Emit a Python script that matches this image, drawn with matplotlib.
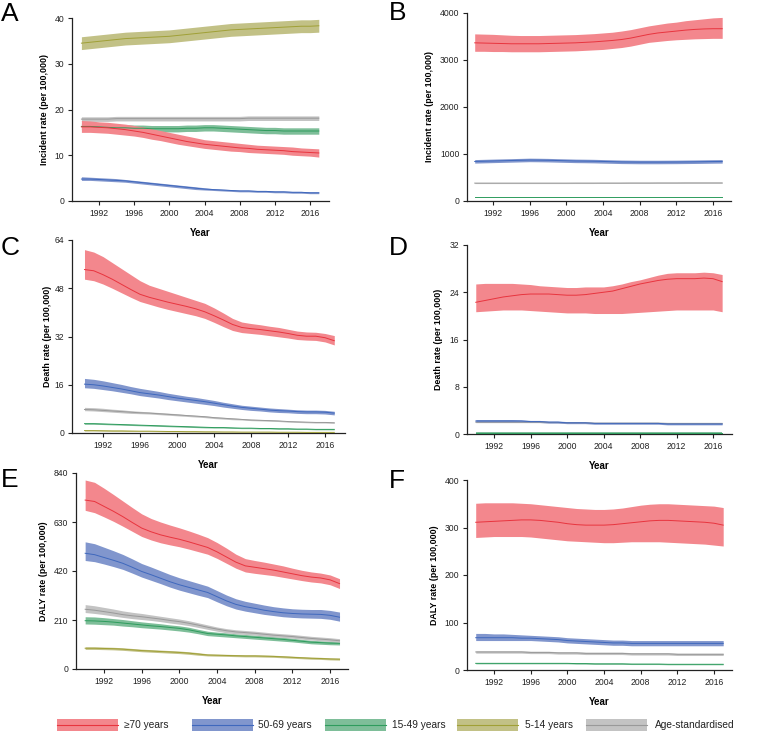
import matplotlib
matplotlib.use("Agg")
import matplotlib.pyplot as plt
from matplotlib.patches import Rectangle
import numpy as np

plt.rcParams['font.family'] = ['Liberation Sans', 'DejaVu Sans']

years = list(range(1990, 2018))
categories = ["\u226570 years", "50-69 years", "15-49 years", "5-14 years", "Age-standardised"]
xticks = [1992, 1996, 2000, 2004, 2008, 2012, 2016]

# ---------------- Panel A: incidence ----------------
A_70 = [16.2,16.2,16.1,16.0,15.8,15.6,15.3,15.0,14.6,14.2,13.8,13.4,13.0,12.7,12.4,12.2,12.0,11.8,11.6,11.5,11.3,11.2,11.1,11.0,10.8,10.7,10.6,10.5]
A_70_lo = [15.0,15.0,14.9,14.8,14.6,14.4,14.2,13.9,13.5,13.2,12.8,12.4,12.1,11.8,11.5,11.3,11.1,10.9,10.8,10.6,10.5,10.4,10.3,10.2,10.0,9.9,9.8,9.6]
A_70_hi = [17.6,17.5,17.3,17.2,17.0,16.8,16.5,16.2,15.8,15.4,15.0,14.6,14.2,13.8,13.4,13.2,13.0,12.8,12.6,12.4,12.2,12.1,12.0,11.9,11.8,11.6,11.5,11.4]
A_5069 = [4.8,4.8,4.7,4.6,4.5,4.4,4.2,4.0,3.8,3.6,3.4,3.2,3.0,2.8,2.6,2.5,2.4,2.3,2.2,2.2,2.1,2.1,2.0,2.0,1.9,1.9,1.8,1.8]
A_5069_lo = [4.5,4.5,4.4,4.3,4.2,4.1,3.9,3.7,3.5,3.3,3.1,2.9,2.7,2.5,2.4,2.3,2.2,2.1,2.0,2.0,1.9,1.9,1.8,1.8,1.7,1.7,1.6,1.6]
A_5069_hi = [5.3,5.2,5.1,5.0,4.9,4.7,4.5,4.3,4.1,3.9,3.7,3.5,3.3,3.1,2.9,2.7,2.6,2.5,2.4,2.4,2.3,2.3,2.2,2.2,2.1,2.1,2.0,2.0]
A_1549 = [16.3,16.3,16.2,16.1,16.0,16.0,15.9,15.9,15.8,15.8,15.8,15.8,15.9,15.9,16.0,16.0,15.9,15.8,15.7,15.6,15.5,15.4,15.4,15.3,15.3,15.3,15.3,15.3]
A_1549_lo = [15.6,15.6,15.5,15.4,15.3,15.3,15.2,15.2,15.1,15.1,15.1,15.1,15.2,15.2,15.3,15.3,15.2,15.1,15.0,14.9,14.8,14.7,14.7,14.6,14.6,14.6,14.6,14.6]
A_1549_hi = [17.0,17.0,16.9,16.8,16.7,16.7,16.6,16.6,16.5,16.5,16.5,16.5,16.6,16.6,16.7,16.7,16.6,16.5,16.4,16.3,16.2,16.1,16.1,16.0,16.0,16.0,16.0,16.0]
A_514 = [34.5,34.7,34.9,35.1,35.3,35.5,35.6,35.7,35.8,35.9,36.0,36.2,36.4,36.6,36.8,37.0,37.2,37.4,37.5,37.6,37.7,37.8,37.9,38.0,38.1,38.2,38.2,38.3]
A_514_lo = [33.1,33.3,33.5,33.7,33.9,34.1,34.2,34.3,34.4,34.5,34.6,34.8,35.0,35.2,35.4,35.6,35.8,36.0,36.1,36.2,36.3,36.4,36.5,36.6,36.7,36.8,36.8,36.9]
A_514_hi = [35.9,36.1,36.3,36.5,36.7,36.9,37.0,37.1,37.2,37.3,37.4,37.6,37.8,38.0,38.2,38.4,38.6,38.8,38.9,39.0,39.1,39.2,39.3,39.4,39.5,39.6,39.6,39.7]
A_std = [17.9,17.9,17.9,17.9,18.0,18.0,18.0,18.0,18.0,18.0,18.0,18.0,18.0,18.0,18.0,18.0,18.0,18.0,18.0,18.1,18.1,18.1,18.1,18.1,18.1,18.1,18.1,18.1]
A_std_lo = [17.4,17.4,17.4,17.4,17.5,17.5,17.5,17.5,17.5,17.5,17.5,17.5,17.5,17.5,17.5,17.5,17.5,17.5,17.5,17.6,17.6,17.6,17.6,17.6,17.6,17.6,17.6,17.6]
A_std_hi = [18.4,18.4,18.4,18.4,18.5,18.5,18.5,18.5,18.5,18.5,18.5,18.5,18.5,18.5,18.5,18.5,18.5,18.5,18.5,18.6,18.6,18.6,18.6,18.6,18.6,18.6,18.6,18.6]

# ---------------- Panel B: incidence ----------------
B_70 = [3360,3355,3350,3345,3340,3340,3340,3340,3345,3350,3355,3360,3370,3380,3395,3410,3430,3460,3500,3540,3570,3590,3610,3630,3645,3655,3660,3660]
B_70_lo = [3180,3180,3175,3175,3170,3170,3170,3170,3175,3180,3185,3190,3200,3210,3220,3240,3260,3290,3330,3370,3390,3410,3425,3435,3445,3450,3455,3455]
B_70_hi = [3550,3545,3540,3530,3520,3515,3515,3515,3520,3525,3530,3535,3545,3555,3570,3585,3610,3640,3680,3720,3750,3780,3800,3830,3850,3870,3890,3900]
B_5069 = [840,845,850,855,860,865,870,868,865,860,855,850,848,845,840,835,830,828,826,826,826,827,828,830,832,835,838,840]
B_5069_lo = [805,810,815,820,825,830,835,833,830,825,820,815,813,810,805,800,795,793,791,791,791,792,793,795,797,800,803,805]
B_5069_hi = [880,885,890,895,900,905,910,908,905,900,895,890,888,885,880,875,870,868,866,866,866,867,868,870,872,875,878,880]
B_1549 = [80,80,80,80,80,80,80,80,80,80,80,80,80,80,80,80,80,80,80,80,80,80,80,80,80,80,80,80]
B_1549_lo = [75,75,75,75,75,75,75,75,75,75,75,75,75,75,75,75,75,75,75,75,75,75,75,75,75,75,75,75]
B_1549_hi = [86,86,86,86,86,86,86,86,86,86,86,86,86,86,86,86,86,86,86,86,86,86,86,86,86,86,86,86]
B_std = [380,380,380,380,380,380,380,380,380,380,380,381,381,381,382,382,382,383,383,383,384,384,384,385,385,385,385,385]
B_std_lo = [370,370,370,370,370,370,370,370,370,370,370,371,371,371,372,372,372,373,373,373,374,374,374,375,375,375,375,375]
B_std_hi = [391,391,391,391,391,391,391,391,391,391,391,392,392,392,393,393,393,394,394,394,395,395,395,396,396,396,396,396]

# ---------------- Panel C: deaths ----------------
C_70 = [54.2,53.8,52.5,51.0,49.3,47.6,46.0,45.0,44.2,43.4,42.7,42.0,41.2,40.2,38.9,37.5,36.0,35.0,34.6,34.3,33.9,33.5,33.0,32.4,32.1,32.1,31.6,30.6]
C_70_lo = [51.0,50.5,49.4,48.0,46.5,45.0,43.6,42.7,41.8,41.0,40.3,39.6,38.9,38.0,36.7,35.3,34.0,33.3,33.0,32.7,32.3,31.9,31.5,31.0,30.8,30.7,30.2,29.2]
C_70_hi = [60.8,60.0,58.5,56.5,54.5,52.5,50.5,49.0,48.0,47.0,46.0,45.0,44.0,43.0,41.5,39.8,38.0,36.8,36.3,35.9,35.4,35.0,34.4,33.8,33.5,33.4,33.0,32.3]
C_5069 = [16.2,16.0,15.6,15.1,14.6,14.0,13.4,13.0,12.6,12.1,11.6,11.2,10.8,10.4,9.9,9.4,8.9,8.5,8.2,7.9,7.6,7.4,7.3,7.1,7.0,7.0,6.9,6.6]
C_5069_lo = [15.0,14.8,14.4,14.0,13.5,13.0,12.4,12.0,11.6,11.1,10.7,10.3,9.9,9.5,9.1,8.6,8.2,7.8,7.5,7.3,7.0,6.8,6.7,6.5,6.4,6.4,6.3,6.0]
C_5069_hi = [18.1,17.8,17.3,16.7,16.1,15.4,14.8,14.3,13.8,13.2,12.7,12.2,11.8,11.3,10.8,10.2,9.7,9.2,8.9,8.6,8.3,8.1,7.9,7.7,7.6,7.6,7.5,7.2]
C_1549 = [3.1,3.1,3.0,2.9,2.8,2.7,2.6,2.5,2.4,2.3,2.2,2.1,2.0,1.9,1.8,1.8,1.7,1.6,1.6,1.5,1.5,1.4,1.4,1.3,1.3,1.2,1.2,1.2]
C_1549_lo = [2.9,2.9,2.8,2.7,2.6,2.5,2.4,2.3,2.2,2.1,2.0,1.9,1.8,1.7,1.65,1.65,1.55,1.45,1.45,1.35,1.35,1.25,1.25,1.15,1.15,1.05,1.05,1.05]
C_1549_hi = [3.3,3.3,3.2,3.1,3.0,2.9,2.8,2.7,2.6,2.5,2.4,2.3,2.2,2.1,1.95,1.95,1.85,1.75,1.75,1.65,1.65,1.55,1.55,1.45,1.45,1.35,1.35,1.35]
C_514 = [0.8,0.8,0.75,0.7,0.7,0.65,0.6,0.6,0.55,0.5,0.5,0.45,0.45,0.4,0.4,0.35,0.35,0.3,0.3,0.3,0.3,0.25,0.25,0.25,0.2,0.2,0.2,0.2]
C_514_lo = [0.65,0.65,0.6,0.55,0.55,0.5,0.5,0.5,0.45,0.4,0.4,0.35,0.35,0.3,0.3,0.27,0.27,0.23,0.23,0.23,0.23,0.19,0.19,0.19,0.15,0.15,0.15,0.15]
C_514_hi = [0.95,0.95,0.9,0.85,0.85,0.8,0.72,0.72,0.66,0.6,0.6,0.55,0.55,0.5,0.5,0.44,0.44,0.38,0.38,0.38,0.38,0.32,0.32,0.32,0.26,0.26,0.26,0.26]
C_std = [7.8,7.7,7.5,7.3,7.1,6.9,6.7,6.6,6.4,6.2,6.0,5.8,5.6,5.4,5.1,4.9,4.7,4.5,4.3,4.2,4.1,4.0,3.8,3.7,3.6,3.5,3.5,3.4]
C_std_lo = [7.4,7.3,7.1,6.9,6.7,6.5,6.4,6.3,6.1,5.9,5.7,5.5,5.3,5.1,4.8,4.6,4.4,4.3,4.1,4.0,3.9,3.8,3.6,3.5,3.4,3.3,3.3,3.2]
C_std_hi = [8.5,8.4,8.2,7.9,7.7,7.4,7.2,7.0,6.8,6.6,6.4,6.1,5.9,5.7,5.4,5.2,5.0,4.8,4.6,4.5,4.4,4.2,4.0,3.9,3.8,3.7,3.7,3.6]

# ---------------- Panel D: deaths ----------------
D_70 = [22.3,22.6,22.9,23.2,23.4,23.6,23.7,23.7,23.7,23.6,23.5,23.5,23.6,23.8,24.0,24.2,24.6,25.0,25.4,25.7,26.0,26.2,26.3,26.3,26.3,26.4,26.3,25.8]
D_70_lo = [20.7,20.8,20.9,21.0,21.0,21.0,20.9,20.8,20.7,20.6,20.5,20.5,20.5,20.4,20.4,20.4,20.4,20.5,20.6,20.7,20.8,20.9,21.0,21.0,21.0,21.0,21.0,20.7]
D_70_hi = [25.4,25.5,25.5,25.5,25.5,25.4,25.3,25.1,25.0,24.9,24.8,24.8,24.9,24.9,24.9,25.1,25.4,25.8,26.1,26.5,26.9,27.2,27.3,27.3,27.3,27.4,27.3,27.0]
D_5069 = [2.2,2.2,2.2,2.2,2.2,2.2,2.1,2.1,2.0,2.0,1.9,1.9,1.9,1.8,1.8,1.8,1.8,1.8,1.8,1.8,1.8,1.7,1.7,1.7,1.7,1.7,1.7,1.7]
D_5069_lo = [2.0,2.0,2.0,2.0,2.0,2.0,1.95,1.95,1.85,1.85,1.75,1.75,1.75,1.65,1.65,1.65,1.65,1.65,1.65,1.65,1.65,1.55,1.55,1.55,1.55,1.55,1.55,1.55]
D_5069_hi = [2.45,2.45,2.45,2.45,2.45,2.4,2.3,2.3,2.2,2.2,2.1,2.1,2.05,1.95,1.95,1.95,1.95,1.95,1.95,1.95,1.95,1.85,1.85,1.85,1.85,1.85,1.85,1.85]
D_1549 = [0.2,0.2,0.2,0.2,0.2,0.2,0.2,0.2,0.2,0.2,0.2,0.2,0.2,0.2,0.2,0.2,0.2,0.2,0.2,0.2,0.2,0.2,0.2,0.2,0.2,0.2,0.2,0.2]
D_1549_lo = [0.15,0.15,0.15,0.15,0.15,0.15,0.15,0.15,0.15,0.15,0.15,0.15,0.15,0.15,0.15,0.15,0.15,0.15,0.15,0.15,0.15,0.15,0.15,0.15,0.15,0.15,0.15,0.15]
D_1549_hi = [0.26,0.26,0.26,0.26,0.26,0.26,0.26,0.26,0.26,0.26,0.26,0.26,0.26,0.26,0.26,0.26,0.26,0.26,0.26,0.26,0.26,0.26,0.26,0.26,0.26,0.26,0.26,0.26]
D_std = [2.0,2.0,2.0,2.0,2.0,2.0,2.0,2.0,1.95,1.95,1.9,1.9,1.9,1.85,1.85,1.85,1.85,1.85,1.85,1.85,1.85,1.8,1.8,1.8,1.8,1.8,1.8,1.8]
D_std_lo = [1.92,1.92,1.92,1.92,1.92,1.92,1.92,1.92,1.87,1.87,1.82,1.82,1.82,1.77,1.77,1.77,1.77,1.77,1.77,1.77,1.77,1.72,1.72,1.72,1.72,1.72,1.72,1.72]
D_std_hi = [2.1,2.1,2.1,2.1,2.1,2.1,2.1,2.1,2.05,2.05,2.0,2.0,2.0,1.95,1.95,1.95,1.95,1.95,1.95,1.95,1.95,1.9,1.9,1.9,1.9,1.9,1.9,1.9]

# ---------------- Panel E: DALYs ----------------
E_70 = [724,718,697,676,653,628,604,588,575,565,556,545,533,521,502,480,458,442,436,430,424,416,408,400,394,390,382,366]
E_70_lo = [680,670,652,633,612,590,568,553,541,532,524,514,503,492,474,453,432,416,410,405,400,393,386,379,373,369,361,345]
E_70_hi = [810,800,775,748,720,692,665,645,630,617,605,592,578,563,542,518,492,473,465,458,450,442,432,423,416,411,403,387]
E_5069 = [496,490,478,466,453,436,418,404,389,374,361,350,339,328,310,292,277,267,260,252,246,241,238,236,235,234,230,222]
E_5069_lo = [465,460,450,439,427,411,394,380,366,351,338,327,316,306,288,271,257,248,241,234,229,224,221,219,218,217,213,205]
E_5069_hi = [545,537,522,507,491,472,452,437,421,405,391,379,367,355,336,317,301,290,282,274,267,262,258,256,255,255,251,244]
E_1549 = [207,206,204,201,197,193,189,185,182,178,174,168,160,152,149,146,142,139,136,133,130,127,123,119,115,113,111,110]
E_1549_lo = [193,192,190,188,184,181,177,174,171,167,163,158,151,143,140,137,134,131,128,125,122,119,116,112,108,106,104,103]
E_1549_hi = [224,223,220,216,212,207,202,198,194,189,185,179,170,162,158,155,151,148,145,142,139,136,132,127,123,121,119,118]
E_514 = [89,89,88,87,85,82,79,77,75,73,71,68,64,60,59,58,57,56,56,55,54,52,50,48,46,45,43,42]
E_514_lo = [84,84,83,82,80,77,74,72,70,68,66,63,59,56,55,54,53,52,52,51,50,48,46,44,42,41,39,38]
E_514_hi = [95,95,94,93,91,88,85,83,81,79,77,74,70,65,64,63,62,61,61,60,59,57,55,53,51,50,48,47]
E_std = [256,252,246,240,233,228,224,219,214,208,203,196,188,179,171,164,159,156,153,149,145,142,139,135,131,128,125,121]
E_std_lo = [242,238,233,227,221,216,212,208,203,197,192,186,178,170,162,155,151,148,145,141,138,135,132,128,124,121,118,114]
E_std_hi = [276,271,264,257,249,243,238,232,226,220,214,207,198,189,180,173,168,165,162,158,154,151,148,144,140,137,134,130]

# ---------------- Panel F: DALYs ----------------
F_70 = [311,312,313,314,315,316,316,315,313,311,308,306,305,305,305,306,308,310,312,314,315,315,314,313,312,311,309,305]
F_70_lo = [279,280,281,281,281,281,280,278,276,274,272,271,270,269,268,268,269,270,270,270,270,269,268,267,266,265,263,261]
F_70_hi = [351,352,352,352,352,351,350,348,346,344,342,340,339,338,338,339,341,344,347,349,350,350,349,348,347,346,345,342]
F_5069 = [68,68,68,68,68,67,67,66,65,64,62,61,60,59,58,57,57,56,56,56,56,56,56,56,56,56,56,56]
F_5069_lo = [62,62,62,62,62,62,62,61,60,59,57,56,55,54,53,52,52,51,51,51,51,51,51,51,51,51,51,51]
F_5069_hi = [77,77,76,76,75,74,73,72,71,70,68,67,66,65,64,63,63,62,62,62,62,62,62,62,62,62,62,62]
F_1549 = [14,14,14,14,14,14,14,14,14,14,14,13.5,13.5,13,13,13,13,12.5,12.5,12.5,12.5,12,12,12,12,12,12,12]
F_1549_lo = [13,13,13,13,13,13,13,13,13,13,13,12.5,12.5,12,12,12,12,11.5,11.5,11.5,11.5,11,11,11,11,11,11,11]
F_1549_hi = [15.2,15.2,15.2,15.2,15.2,15.2,15.2,15.2,15.2,15.2,15.2,14.7,14.7,14.2,14.2,14.2,14.2,13.7,13.7,13.7,13.7,13.2,13.2,13.2,13.2,13.2,13.2,13.2]
F_std = [38,38,38,38,38,38,37,37,37,36,36,36,35,35,35,35,35,34,34,34,34,34,33,33,33,33,33,33]
F_std_lo = [35.5,35.5,35.5,35.5,35.5,35.5,34.5,34.5,34.5,33.5,33.5,33.5,32.5,32.5,32.5,32.5,32.5,31.5,31.5,31.5,31.5,31.5,30.5,30.5,30.5,30.5,30.5,30.5]
F_std_hi = [40.5,40.5,40.5,40.5,40.5,40.5,39.5,39.5,39.5,38.5,38.5,38.5,37.5,37.5,37.5,37.5,37.5,36.5,36.5,36.5,36.5,36.5,35.5,35.5,35.5,35.5,35.5,35.5]

A_yticks = [0, 10, 20, 30, 40]
B_yticks = [0, 1000, 2000, 3000, 4000]
C_yticks = [0, 16, 32, 48, 64]
D_yticks = [0, 8, 16, 24, 32]
E_yticks = [0, 210, 420, 630, 840]
F_yticks = [0, 100, 200, 300, 400]

# ---------------- styling ----------------
FILL = {"70": "#F3878D", "5069": "#8196CD", "1549": "#7EBE99", "514": "#C2C186", "std": "#C3C3C3"}
LINE = {"70": "#E8343E", "5069": "#3F68BD", "1549": "#2E9C5D", "514": "#A0A036", "std": "#999999"}
KEYS = ["70", "5069", "1549", "514", "std"]
DRAW_ORDER = ["514", "1549", "std", "5069", "70"]

W, H = 782, 748
fig = plt.figure(figsize=(W / 100, H / 100), dpi=100)

def make_axes(left, top, right, bottom):
    return fig.add_axes([left / W, 1 - bottom / H, (right - left) / W, (bottom - top) / H])

panels = [
    ("A", (72, 18, 329, 201), (1988.93, 2018.16), A_yticks, "Incident rate (per 100,000)",
     {"70": (A_70, A_70_lo, A_70_hi), "5069": (A_5069, A_5069_lo, A_5069_hi),
      "1549": (A_1549, A_1549_lo, A_1549_hi), "514": (A_514, A_514_lo, A_514_hi),
      "std": (A_std, A_std_lo, A_std_hi)}, 49, (1, 21)),
    ("B", (467, 12.7, 731, 201), (1989.16, 2017.96), B_yticks, "Incident rate (per 100,000)",
     {"70": (B_70, B_70_lo, B_70_hi), "5069": (B_5069, B_5069_lo, B_5069_hi),
      "1549": (B_1549, B_1549_lo, B_1549_hi), "std": (B_std, B_std_lo, B_std_hi)}, 434, (389, 20)),
    ("C", (72, 240, 345, 433), (1988.65, 2018.16), C_yticks, "Death rate (per 100,000)",
     {"70": (C_70, C_70_lo, C_70_hi), "5069": (C_5069, C_5069_lo, C_5069_hi),
      "1549": (C_1549, C_1549_lo, C_1549_hi), "514": (C_514, C_514_lo, C_514_hi),
      "std": (C_std, C_std_lo, C_std_hi)}, 52, (1, 255)),
    ("D", (467, 245, 732, 434), (1989.04, 2018.08), D_yticks, "Death rate (per 100,000)",
     {"70": (D_70, D_70_lo, D_70_hi), "5069": (D_5069, D_5069_lo, D_5069_hi),
      "1549": (D_1549, D_1549_lo, D_1549_hi), "std": (D_std, D_std_lo, D_std_hi)}, 443, (389, 255)),
    ("E", (76, 473, 348, 669), (1989.03, 2017.9), E_yticks, "DALY rate (per 100,000)",
     {"70": (E_70, E_70_lo, E_70_hi), "5069": (E_5069, E_5069_lo, E_5069_hi),
      "1549": (E_1549, E_1549_lo, E_1549_hi), "514": (E_514, E_514_lo, E_514_hi),
      "std": (E_std, E_std_lo, E_std_hi)}, 48, (1, 487)),
    ("F", (467, 480, 732, 670), (1989.05, 2017.96), F_yticks, "DALY rate (per 100,000)",
     {"70": (F_70, F_70_lo, F_70_hi), "5069": (F_5069, F_5069_lo, F_5069_hi),
      "1549": (F_1549, F_1549_lo, F_1549_hi), "std": (F_std, F_std_lo, F_std_hi)}, 439, (389, 488)),
]

for letter, rect, xlim, yticks, ylabel, series, ylx, lpos in panels:
    left, top, right, bottom = rect
    ax = make_axes(*rect)
    for k in DRAW_ORDER:
        if k not in series:
            continue
        m, lo, hi = series[k]
        ax.fill_between(years, lo, hi, color=FILL[k], lw=0, zorder=2)
        ax.plot(years, m, color=LINE[k], lw=0.7, zorder=3)
    ax.set_xlim(*xlim)
    ax.set_ylim(yticks[0], yticks[-1])
    ax.set_xticks(xticks)
    ax.set_yticks(yticks)
    for s in ("top", "right"):
        ax.spines[s].set_visible(False)
    for s in ("left", "bottom"):
        ax.spines[s].set_linewidth(0.9)
        ax.spines[s].set_color("#222222")
    ax.tick_params(direction="out", length=3, width=0.8, labelsize=6.2, pad=2.5, colors="#222222")
    ax.set_ylabel(ylabel, fontsize=6.4, fontweight="bold")
    ax.set_xlabel("Year", fontsize=7.0, fontweight="bold")
    wpx = right - left
    hpx = bottom - top
    ax.yaxis.set_label_coords((ylx - left) / wpx, 0.5)
    ax.xaxis.set_label_coords(0.5, -27 / hpx)
    fig.text(lpos[0] / W, 1 - lpos[1] / H, letter, fontsize=19, ha="left", va="baseline")

# ---------------- legend ----------------
lax = fig.add_axes([0, 0, 1, 1])
lax.set_xlim(0, W)
lax.set_ylim(H, 0)
lax.axis("off")
patch_x = [57, 192, 325, 457, 586]
text_x = [124, 258, 392, 525, 655]
for k, lab, px, tx in zip(KEYS, categories, patch_x, text_x):
    lax.add_patch(Rectangle((px, 719), 61, 11.5, facecolor=FILL[k], edgecolor="none"))
    lax.plot([px, px + 61], [724.75, 724.75], color=LINE[k], lw=0.8)
    lax.text(tx, 725, lab, fontsize=7.3, ha="left", va="center", color="#222222")

fig.savefig("out.png", dpi=100)
